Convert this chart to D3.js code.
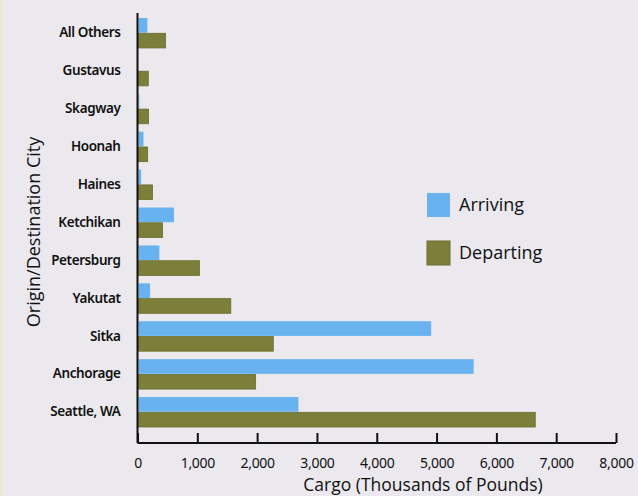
<!DOCTYPE html>
<html><head><meta charset="utf-8">
<script src="https://cdn.jsdelivr.net/npm/d3@7"></script>
<style>
html,body{margin:0;padding:0;background:#ebe9ee;}
svg{display:block;font-family:"Open Sans",sans-serif;}
</style></head>
<body>
<svg id="c" width="638" height="496"></svg>
<script>
const categories = ["All Others","Gustavus","Skagway","Hoonah","Haines","Ketchikan","Petersburg","Yakutat","Sitka","Anchorage","Seattle, WA"];
const arriving  = [165, 10, 30, 100, 60, 610, 365, 210, 4910, 5620, 2690];
const departing = [470, 180, 185, 170, 250, 420, 1035, 1560, 2270, 1975, 6650];
const series = ["Arriving","Departing"];
const colors = ["#68b3ef","#7b7f3a"];
const xTicks = [0,1000,2000,3000,4000,5000,6000,7000,8000];

const svg = d3.select("#c");
svg.append("rect").attr("width",638).attr("height",496).attr("fill","#ebe9ee");
svg.append("rect").attr("width",2).attr("height",496).attr("fill","#e6ecd2");

const x0 = 137.5, x1 = 616, yTop = 13, yBot = 443;
const x = d3.scaleLinear().domain([0,8000]).range([x0,x1]);
const y = d3.scaleBand().domain(categories).range([18, 427]).paddingInner(0.21).paddingOuter(0.0);
const sub = d3.scaleBand().domain(series).range([0, y.bandwidth()]).paddingInner(0.04);

const data = categories.map((c,i)=>({c, vals:[arriving[i], departing[i]]}));
const g = svg.append("g");
data.forEach(d=>{
  d.vals.forEach((v,j)=>{
    g.append("rect")
      .attr("x", x(0)+1)
      .attr("y", y(d.c)+sub(series[j]))
      .attr("width", Math.max(0, x(v)-x(0)-1))
      .attr("height", sub.bandwidth())
      .attr("fill", colors[j])
      .attr("stroke", j===1 ? "#6a6d2c" : "none")
      .attr("stroke-width", j===1 ? 0.8 : 0);
  });
});

// axes
const xAxis = d3.axisBottom(x).tickValues(xTicks).tickSize(-10).tickPadding(14).tickFormat(d3.format(","));
const ax = svg.append("g").attr("transform",`translate(0,${yBot})`).call(xAxis);
ax.select(".domain").attr("d",`M${x0},0H${x1}`).attr("stroke","#111").attr("stroke-width",2);
ax.selectAll(".tick line").attr("stroke","#111").attr("stroke-width",2);
ax.selectAll(".tick text").attr("fill","#111").style("font-family","'Noto Sans',sans-serif")
  .style("font-size","14px").style("letter-spacing","-0.3px").attr("dy","0.75em");

const yAxis = d3.axisLeft(y).tickSize(0).tickPadding(17);
const ay = svg.append("g").attr("transform",`translate(${x0},0)`).call(yAxis);
ay.select(".domain").attr("d",`M0,${yTop}V${yBot}`).attr("stroke","#111").attr("stroke-width",2);
ay.selectAll(".tick text").attr("fill","#111").style("font-family","'Noto Sans',sans-serif")
  .style("font-size","13.5px").style("font-weight","600").style("letter-spacing","-0.4px");

// titles
svg.append("text").attr("x",423).attr("y",491).attr("text-anchor","middle")
  .attr("fill","#111").style("font-size","17.5px").text("Cargo (Thousands of Pounds)");
svg.append("text").attr("transform","translate(40,232) rotate(-90)").attr("text-anchor","middle")
  .attr("fill","#111").style("font-size","18px").text("Origin/Destination City");

// legend
const lg = svg.append("g");
series.forEach((s,i)=>{
  const yy = 193 + i*48;
  lg.append("rect").attr("x",427).attr("y",yy).attr("width",23).attr("height",24)
    .attr("fill",colors[i]).attr("stroke", i===1?"#6a6d2c":"none");
  lg.append("text").attr("x",459).attr("y",yy+18).attr("fill","#111")
    .style("font-size","18px").text(s);
});
</script>
</body></html>
